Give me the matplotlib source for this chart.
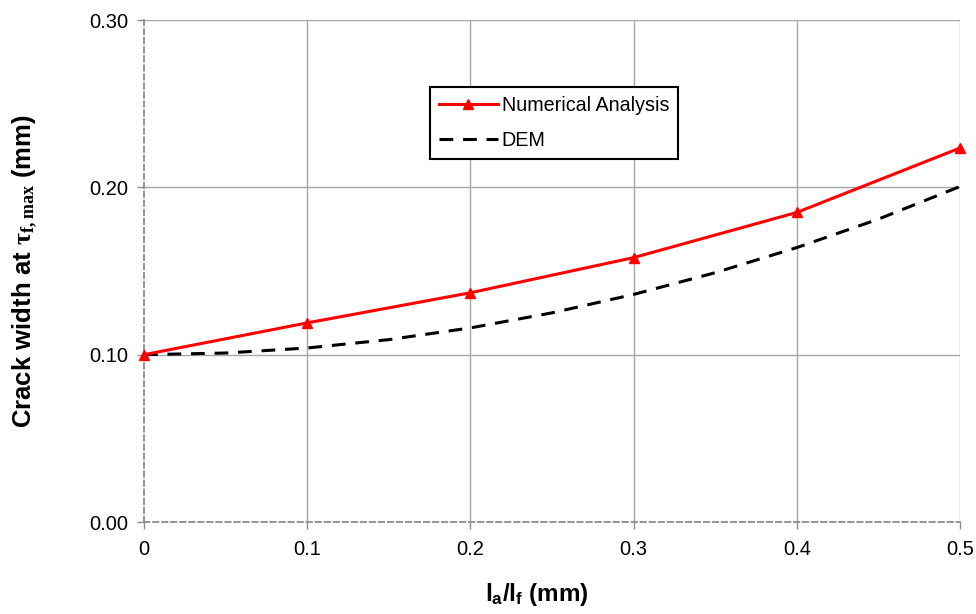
import numpy as np
import matplotlib
matplotlib.use("Agg")
import matplotlib.pyplot as plt

plt.rcParams['font.family'] = ['Liberation Sans', 'DejaVu Sans']
plt.rcParams['mathtext.fontset'] = 'custom'
plt.rcParams['mathtext.rm'] = 'Liberation Sans'
plt.rcParams['mathtext.bf'] = 'Liberation Sans:bold'
plt.rcParams['mathtext.sf'] = 'Liberation Serif:bold'

# data
x_num = [0.0, 0.1, 0.2, 0.3, 0.4, 0.5]
y_num = [0.100, 0.119, 0.137, 0.158, 0.185, 0.2235]

x_dem = [0.0, 0.05, 0.1, 0.15, 0.2, 0.25, 0.3, 0.35, 0.4, 0.45, 0.5]
y_dem = [0.100, 0.101, 0.104, 0.109, 0.116, 0.125, 0.136, 0.149, 0.164, 0.181, 0.2005]

x_ticks = [0, 0.1, 0.2, 0.3, 0.4, 0.5]
x_labels = ['0', '0.1', '0.2', '0.3', '0.4', '0.5']
y_ticks = [0.0, 0.1, 0.2, 0.3]
y_labels = ['0.00', '0.10', '0.20', '0.30']

fig = plt.figure(figsize=(9.76, 6.14), dpi=100)
ax = fig.add_axes([0.1475, 0.1498, 0.8361, 0.8176])

grid_col = '#a6a6a6'
spine_col = '#8c8c8c'
ax.plot(x_num, y_num, color='#ff0000', lw=2.2, marker='^', markersize=7,
        label='Numerical Analysis', clip_on=False, zorder=4)
ax.plot(x_dem, y_dem, color='black', lw=2.2, dashes=(4.5, 3.2),
        label='DEM', clip_on=False, zorder=3)

ax.set_xlim(0, 0.5)
ax.set_ylim(0, 0.3)
ax.set_xticks(x_ticks)
ax.set_xticklabels(x_labels)
ax.set_yticks(y_ticks)
ax.set_yticklabels(y_labels)
ax.tick_params(labelsize=14.5, colors=spine_col, labelcolor='black', length=5, width=1)
ax.tick_params(axis='x', pad=8)
ax.tick_params(axis='y', pad=6)

ax.grid(True, color=grid_col, lw=1)
ax.set_axisbelow(True)
# the axis lines at x=0 and y=0 are dashed, so drop the solid grid there
ax.get_xgridlines()[0].set_visible(False)
ax.get_ygridlines()[0].set_visible(False)
for s in ['top', 'right']:
    ax.spines[s].set_visible(False)
for s in ['left', 'bottom']:
    ax.spines[s].set_color(spine_col)
    ax.spines[s].set_linestyle((0, (3, 2)))
    ax.spines[s].set_linewidth(1.3)

ax.set_xlabel(r'$\mathbf{l_a/l_f}$ (mm)', fontsize=17.5, fontweight='bold', labelpad=16)
ax.xaxis.label.set_x(0.482)
ax.set_ylabel(r'Crack width at $\mathsf{\tau_{f,max}}$ (mm)', fontsize=18.5,
              fontweight='bold', labelpad=36)

leg = ax.legend(loc='upper left', bbox_to_anchor=(0.338, 0.886), fontsize=14.2,
                frameon=True, fancybox=False, framealpha=1, edgecolor='black',
                handlelength=3.0, borderpad=0.45, labelspacing=0.8, handletextpad=0.2)
leg.get_frame().set_linewidth(1.5)

fig.savefig('out.png', dpi=100)
